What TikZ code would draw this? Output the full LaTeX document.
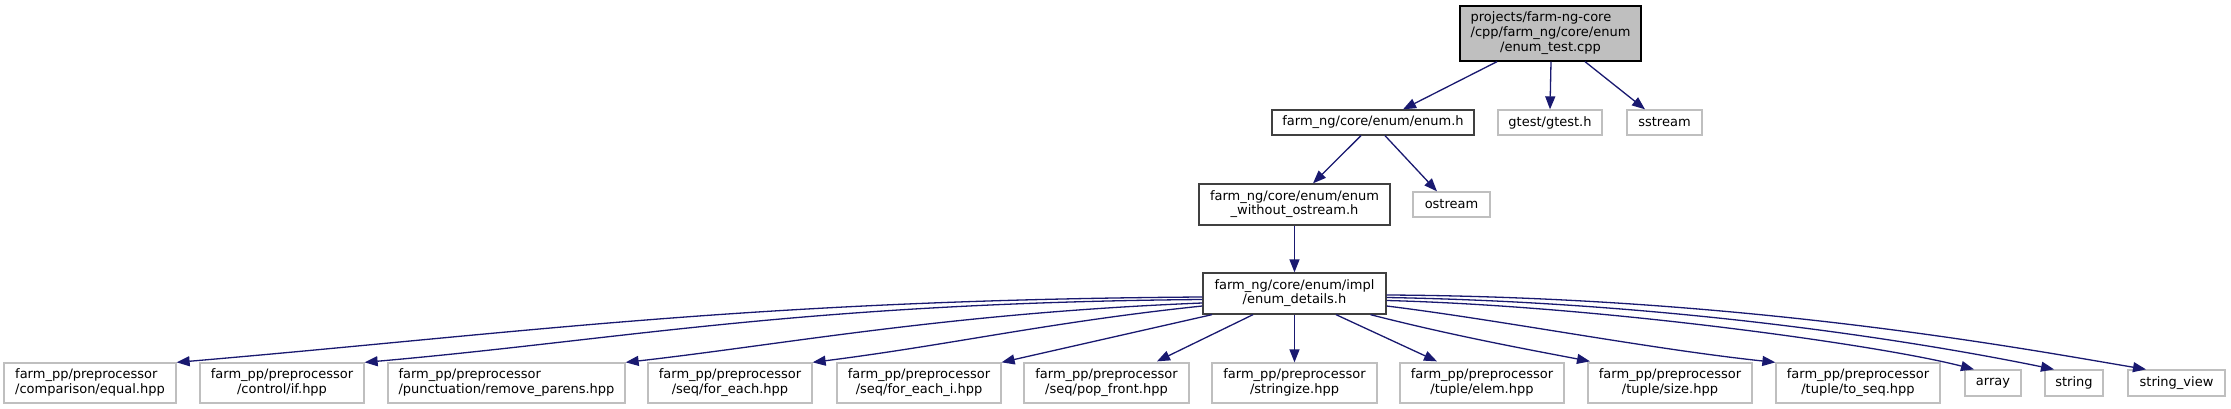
\documentclass[tikz,border=0pt]{standalone}
\usepackage{fontspec}
\setmainfont{DejaVu Sans}
\usetikzlibrary{arrows.meta}
\definecolor{edgeblue}{HTML}{191970}
\definecolor{greyext}{HTML}{BFBFBF}
\definecolor{greyint}{HTML}{404040}
\newcommand{\twoline}[2]{\begin{tabular}{@{}l@{}}#1\\\multicolumn{1}{@{}c@{}}{#2}\end{tabular}}
\newcommand{\threeline}[3]{\begin{tabular}{@{}l@{}}#1\\#2\\\multicolumn{1}{@{}c@{}}{#3}\end{tabular}}
\tikzset{
  basebox/.style={rectangle, inner sep=0pt, line width=1.3pt, text=black,
    font=\fontsize{13}{14.7}\selectfont},
  wh/.style 2 args={minimum width=#1pt, minimum height=#2pt},
  extbox/.style={basebox, draw=greyext, fill=white},
  intbox/.style={basebox, draw=greyint, fill=white},
  rootbox/.style={basebox, draw=black, fill=greyext},
  dep/.style={draw=edgeblue, line width=1.3pt, -{Triangle[length=13pt,width=10pt]}},
}
\begin{document}
\begin{tikzpicture}[x=1pt, y=-1pt]
\fill[white] (0,0) rectangle (2231,409);
\useasboundingbox (0,0) rectangle (2231,409);

% nodes
\node[rootbox, wh={181}{55}] (top) at (1550.5,33.5) {\threeline{projects/farm-ng-core}{/cpp/farm\_ng/core/enum}{/enum\_test.cpp}};
\node[intbox, wh={202}{25}] (enumh) at (1373,122.5) {farm\_ng/core/enum/enum.h};
\node[extbox, wh={104}{25}] (gtest) at (1550,122.5) {gtest/gtest.h};
\node[extbox, wh={75}{25}] (sstream) at (1664.5,122.5) {sstream};
\node[intbox, wh={191}{41}] (without) at (1294.5,204.5) {\twoline{farm\_ng/core/enum/enum}{\_without\_ostream.h}};
\node[extbox, wh={77}{25}] (ostream) at (1451.5,204.5) {ostream};
\node[intbox, wh={183}{41}] (details) at (1294.5,293.5) {\twoline{farm\_ng/core/enum/impl}{/enum\_details.h}};

\node[extbox, wh={172}{40}] (equal) at (90,383) {\twoline{farm\_pp/preprocessor}{/comparison/equal.hpp}};
\node[extbox, wh={164}{40}] (ifh) at (282,383) {\twoline{farm\_pp/preprocessor}{/control/if.hpp}};
\node[extbox, wh={237}{40}] (parens) at (506.5,383) {\twoline{farm\_pp/preprocessor}{/punctuation/remove\_parens.hpp}};
\node[extbox, wh={164}{40}] (foreach) at (730,383) {\twoline{farm\_pp/preprocessor}{/seq/for\_each.hpp}};
\node[extbox, wh={164}{40}] (foreachi) at (919,383) {\twoline{farm\_pp/preprocessor}{/seq/for\_each\_i.hpp}};
\node[extbox, wh={165}{40}] (popfront) at (1106.5,383) {\twoline{farm\_pp/preprocessor}{/seq/pop\_front.hpp}};
\node[extbox, wh={165}{40}] (stringize) at (1294.5,383) {\twoline{farm\_pp/preprocessor}{/stringize.hpp}};
\node[extbox, wh={164}{40}] (elem) at (1482,383) {\twoline{farm\_pp/preprocessor}{/tuple/elem.hpp}};
\node[extbox, wh={164}{40}] (tsize) at (1670,383) {\twoline{farm\_pp/preprocessor}{/tuple/size.hpp}};
\node[extbox, wh={164}{40}] (toseq) at (1858,383) {\twoline{farm\_pp/preprocessor}{/tuple/to\_seq.hpp}};
\node[extbox, wh={56}{26}] (array) at (1993,383) {array};
\node[extbox, wh={58}{26}] (string) at (2074,383) {string};
\node[extbox, wh={97}{26}] (stringview) at (2176.5,383) {string\_view};

% edges, upper part
\draw[dep] ([xshift=-53.5pt]top.south) -- ([xshift=30pt]enumh.north);
\draw[dep] ([xshift=0.5pt]top.south) -- (gtest.north);
\draw[dep] ([xshift=34.5pt]top.south) -- ([xshift=-19.5pt]sstream.north);
\draw[dep] ([xshift=-12pt]enumh.south) -- ([xshift=18.5pt]without.north);
\draw[dep] ([xshift=12pt]enumh.south) -- ([xshift=-14.5pt]ostream.north);
\draw[dep] (without.south) -- (details.north);

% edges, from details
\draw[dep] ([yshift=-3.5pt]details.west) .. controls (750,300) and (520,333) .. (equal.north east);
\draw[dep] ([yshift=-6pt]details.west) .. controls (800,303) and (620,340) .. (ifh.north east);
\draw[dep] ([yshift=-9.5pt]details.west) .. controls (950,313) and (780,345) .. (parens.north east);
\draw[dep] ([yshift=-12.5pt]details.west) .. controls (1050,322) and (950,345) .. (foreach.north east);
\draw[dep] ([xshift=-82.5pt]details.south) -- (foreachi.north east);
\draw[dep] ([xshift=-41.5pt]details.south) -- ([xshift=50.5pt,yshift=1pt]popfront.north);
\draw[dep] (details.south) -- (stringize.north);
\draw[dep] ([xshift=41.5pt]details.south) -- ([xshift=-45pt,yshift=1pt]elem.north);
\draw[dep] ([xshift=76pt]details.south) .. controls (1450,335) and (1520,348) .. ([xshift=-80pt,yshift=1pt]tsize.north);
\draw[dep] ([yshift=-12.5pt]details.east) .. controls (1500,320) and (1650,349) .. (toseq.north west);
\draw[dep] ([yshift=-7pt]details.east) .. controls (1600,306) and (1880,345) .. ([xshift=-19pt]array.north);
\draw[dep] ([yshift=-4pt]details.east) .. controls (1700,303) and (1950,348) .. ([xshift=-20pt]string.north);
\draw[dep] ([yshift=-1.5pt]details.east) .. controls (1750,297) and (2030,350) .. ([xshift=-30.5pt]stringview.north);
\end{tikzpicture}
\end{document}
